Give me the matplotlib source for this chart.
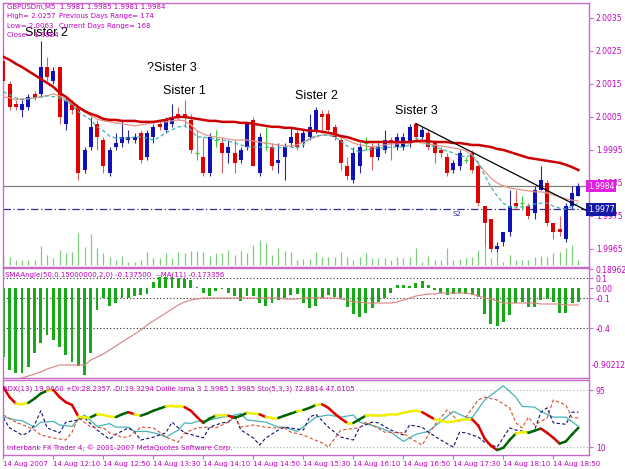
import numpy as np
import matplotlib
matplotlib.use("Agg")
import matplotlib.pyplot as plt
import matplotlib.transforms as mtransforms

W, H = 625, 469

# ---- price data: GBPUSDm M5, 14 Aug 2007 11:30 .. 19:10 ----
opens = [2.0022, 2.0015, 2.0009, 2.0007, 2.0008, 2.0012, 2.0012, 2.0020, 2.0016, 2.0020,
         2.0003, 2.0009, 2.0008, 1.9989, 1.9996, 2.0003, 1.9998, 1.9988, 1.9996, 1.9997,
         1.9998, 1.9998, 2.0000, 1.9993, 1.9999, 2.0003, 2.0001, 2.0003, 2.0006, 2.0006,
         2.0004, 1.9994, 1.9993, 1.9988, 1.9998, 1.9997, 1.9994, 1.9994, 1.9992, 1.9996,
         2.0004, 1.9988, 1.9997, 1.9996, 1.9991, 1.9993, 1.9997, 2.0000, 1.9997, 1.9999,
         2.0001, 2.0006, 2.0006, 2.0002, 1.9998, 1.9990, 1.9986, 1.9990, 1.9997, 1.9996,
         1.9993, 1.9995, 1.9998, 1.9996, 1.9996, 1.9997, 2.0003, 1.9999, 2.0000, 1.9997,
         1.9995, 1.9993, 1.9989, 1.9990, 1.9992, 1.9994, 1.9990, 1.9978, 1.9974, 1.9965,
         1.9967, 1.9970, 1.9979, 1.9979, 1.9978, 1.9976, 1.9983, 1.9985, 1.9973, 1.9971,
         1.9968, 1.9978, 1.9981]
highs = [2.0023, 2.0016, 2.0010, 2.0010, 2.0012, 2.0013, 2.0028, 2.0023, 2.0020, 2.0020,
         2.0011, 2.0010, 2.0008, 1.9996, 2.0005, 2.0004, 1.9999, 1.9996, 2.0000, 2.0004,
         2.0001, 2.0000, 2.0001, 2.0001, 2.0003, 2.0004, 2.0005, 2.0009, 2.0008, 2.0010,
         2.0006, 2.0001, 1.9999, 2.0000, 2.0001, 1.9999, 1.9998, 1.9998, 1.9996, 2.0003,
         2.0005, 2.0000, 2.0002, 1.9997, 1.9997, 1.9997, 2.0002, 2.0001, 2.0001, 2.0006,
         2.0008, 2.0007, 2.0007, 2.0003, 1.9999, 1.9993, 1.9996, 1.9997, 1.9999, 1.9997,
         1.9997, 2.0001, 1.9999, 2.0000, 2.0000, 2.0003, 2.0003, 2.0002, 2.0001, 1.9998,
         1.9996, 1.9994, 1.9992, 1.9995, 1.9993, 1.9995, 1.9991, 1.9978, 1.9974, 1.9967,
         1.9970, 1.9983, 1.9983, 1.9981, 1.9979, 1.9984, 1.9990, 1.9986, 1.9973, 1.9975,
         1.9979, 1.9984, 1.9985]
lows = [2.0015, 2.0007, 2.0007, 2.0005, 2.0007, 2.0010, 2.0011, 2.0016, 2.0015, 2.0003,
        2.0001, 2.0006, 1.9986, 1.9988, 1.9995, 1.9995, 1.9988, 1.9987, 1.9995, 1.9996,
        1.9997, 1.9997, 1.9991, 1.9992, 1.9997, 2.0001, 2.0000, 2.0002, 2.0004, 2.0002,
        1.9994, 1.9992, 1.9987, 1.9987, 1.9996, 1.9988, 1.9991, 1.9988, 1.9991, 1.9995,
        1.9990, 1.9987, 1.9995, 1.9989, 1.9988, 1.9986, 1.9996, 1.9995, 1.9996, 1.9998,
        2.0000, 2.0000, 2.0000, 1.9998, 1.9989, 1.9986, 1.9985, 1.9988, 1.9995, 1.9989,
        1.9992, 1.9994, 1.9992, 1.9995, 1.9995, 1.9996, 1.9998, 1.9998, 1.9995, 1.9991,
        1.9993, 1.9987, 1.9988, 1.9989, 1.9991, 1.9988, 1.9978, 1.9966, 1.9964, 1.9964,
        1.9966, 1.9969, 1.9977, 1.9977, 1.9974, 1.9974, 1.9983, 1.9972, 1.9968, 1.9969,
        1.9967, 1.9977, 1.9981]
closes = [2.0016, 2.0008, 2.0008, 2.0009, 2.0011, 2.0011, 2.0020, 2.0017, 2.0019, 2.0005,
          2.0010, 2.0007, 1.9988, 1.9995, 2.0002, 1.9999, 1.9990, 1.9995, 1.9997, 1.9999,
          1.9999, 1.9999, 1.9992, 2.0000, 2.0002, 2.0002, 2.0004, 2.0005, 2.0005, 2.0005,
          1.9995, 1.9994, 1.9988, 1.9999, 1.9998, 1.9994, 1.9996, 1.9991, 1.9995, 2.0003,
          1.9990, 1.9999, 1.9997, 1.9990, 1.9992, 1.9996, 1.9999, 1.9996, 2.0000, 2.0002,
          2.0007, 2.0005, 2.0001, 1.9999, 1.9991, 1.9987, 1.9994, 1.9996, 1.9997, 1.9993,
          1.9996, 1.9998, 1.9997, 1.9999, 1.9999, 2.0002, 1.9999, 2.0001, 1.9996, 1.9994,
          1.9994, 1.9988, 1.9991, 1.9994, 1.9992, 1.9989, 1.9979, 1.9973, 1.9965, 1.9966,
          1.9970, 1.9978, 1.9978, 1.9979, 1.9975, 1.9983, 1.9986, 1.9973, 1.9970, 1.9970,
          1.9978, 1.9982, 1.9984]
volumes = [8, 8, 5, 5, 5, 5, 19, 10, 7, 15, 12, 13, 32, 18, 31, 17, 12, 8, 5, 9,
           3, 3, 5, 13, 7, 7, 12, 7, 13, 12, 14, 14, 13, 9, 12, 12, 15, 10, 14, 12,
           20, 25, 22, 10, 17, 14, 13, 5, 6, 6, 13, 8, 8, 8, 13, 8, 5, 8, 12, 7,
           7, 7, 5, 8, 7, 8, 17, 3, 9, 5, 5, 17, 5, 6, 7, 8, 15, 19, 7, 13,
           3, 10, 5, 5, 5, 8, 9, 8, 12, 13, 17, 20, 5]

ma_slow = [2.00232, 2.00223, 2.00211, 2.00201, 2.00189, 2.00177, 2.00165, 2.00153, 2.00141, 2.00123,
           2.00111, 2.00095, 2.00080, 2.00068, 2.00059, 2.00053, 2.00044, 2.00041, 2.00041, 2.00038,
           2.00038, 2.00038, 2.00035, 2.00035, 2.00035, 2.00038, 2.00041, 2.00047, 2.00050, 2.00050,
           2.00047, 2.00044, 2.00041, 2.00038, 2.00038, 2.00035, 2.00035, 2.00035, 2.00032, 2.00032,
           2.00029, 2.00026, 2.00023, 2.00020, 2.00020, 2.00017, 2.00017, 2.00014, 2.00011, 2.00008,
           2.00008, 2.00005, 2.00002, 1.99998, 1.99992, 1.99989, 1.99983, 1.99977, 1.99974, 1.99974,
           1.99974, 1.99974, 1.99974, 1.99974, 1.99974, 1.99974, 1.99977, 1.99977, 1.99977, 1.99974,
           1.99974, 1.99974, 1.99971, 1.99971, 1.99968, 1.99965, 1.99965, 1.99962, 1.99959, 1.99953,
           1.99950, 1.99944, 1.99938, 1.99932, 1.99926, 1.99923, 1.99920, 1.99917, 1.99914, 1.99911,
           1.99905, 1.99898, 1.99889]
ma_mid = [2.00111, 2.00108, 2.00102, 2.00105, 2.00105, 2.00108, 2.00111, 2.00114, 2.00120, 2.00114,
          2.00102, 2.00089, 2.00077, 2.00065, 2.00053, 2.00044, 2.00038, 2.00035, 2.00032, 2.00029,
          2.00026, 2.00023, 2.00026, 2.00029, 2.00032, 2.00035, 2.00035, 2.00038, 2.00041, 2.00038,
          2.00026, 2.00008, 1.99998, 1.99992, 1.99989, 1.99986, 1.99983, 1.99980, 1.99980, 1.99980,
          1.99977, 1.99974, 1.99971, 1.99968, 1.99965, 1.99962, 1.99962, 1.99965, 1.99974, 1.99983,
          1.99989, 1.99995, 1.99995, 1.99995, 1.99989, 1.99980, 1.99971, 1.99965, 1.99962, 1.99959,
          1.99962, 1.99965, 1.99968, 1.99968, 1.99971, 1.99971, 1.99974, 1.99971, 1.99968, 1.99965,
          1.99962, 1.99959, 1.99956, 1.99953, 1.99947, 1.99935, 1.99908, 1.99886, 1.99865, 1.99850,
          1.99841, 1.99835, 1.99832, 1.99829, 1.99826, 1.99823, 1.99823, 1.99820, 1.99814, 1.99808,
          1.99802, 1.99798, 1.99795]
ma_fast = [2.00126, 2.00117, 2.00108, 2.00102, 2.00105, 2.00108, 2.00111, 2.00114, 2.00111, 2.00108,
           2.00098, 2.00086, 2.00065, 2.00053, 2.00041, 2.00020, 2.00008, 1.99992, 1.99986, 1.99986,
           1.99986, 1.99989, 1.99989, 1.99986, 1.99980, 1.99989, 2.00002, 2.00011, 2.00020, 2.00023,
           2.00011, 1.99989, 1.99989, 1.99986, 1.99983, 1.99980, 1.99977, 1.99971, 1.99965, 1.99959,
           1.99959, 1.99959, 1.99959, 1.99956, 1.99956, 1.99959, 1.99959, 1.99956, 1.99965, 1.99986,
           1.99992, 1.99995, 1.99995, 1.99989, 1.99977, 1.99962, 1.99950, 1.99944, 1.99950, 1.99953,
           1.99956, 1.99956, 1.99959, 1.99959, 1.99959, 1.99965, 1.99986, 1.99980, 1.99965, 1.99959,
           1.99953, 1.99947, 1.99941, 1.99932, 1.99929, 1.99935, 1.99911, 1.99874, 1.99838, 1.99811,
           1.99789, 1.99777, 1.99777, 1.99777, 1.99780, 1.99786, 1.99789, 1.99789, 1.99780, 1.99774,
           1.99771, 1.99780, 1.99789]

bid_price = 1.9984
s2_price = 1.9977
trend_bars = [66, 95]
trend_prices = [2.0003, 1.99750]
price_ticks = [2.0035, 2.0025, 2.0015, 2.0005, 1.9995, 1.9985, 1.9975, 1.9965]

# ---- SMAAngle sub-window ----
angle_hist = [-0.69, -0.82, -0.85, -0.85, -0.79, -0.65, -0.55, -0.47, -0.52, -0.59,
              -0.67, -0.74, -0.78, -0.87, -0.65, -0.22, -0.10, -0.18, -0.15, -0.10,
              -0.10, -0.08, -0.07, -0.06, 0.06, 0.11, 0.11, 0.11, 0.10, 0.09,
              0.08, 0.01, -0.05, -0.08, -0.03, -0.01, -0.05, -0.08, -0.13, -0.08,
              -0.08, -0.15, -0.18, -0.15, -0.12, -0.10, -0.07, -0.06, -0.15, -0.20,
              -0.18, -0.10, -0.07, -0.09, -0.10, -0.19, -0.26, -0.29, -0.25, -0.20,
              -0.14, -0.10, -0.05, 0.03, 0.03, 0.02, 0.05, 0.07, 0.03, -0.02,
              -0.05, -0.07, -0.06, -0.05, -0.06, -0.07, -0.09, -0.26, -0.36, -0.38,
              -0.34, -0.27, -0.15, -0.14, -0.19, -0.19, -0.12, -0.11, -0.14, -0.25,
              -0.25, -0.15, -0.14]
angle_ma = [-0.92, -0.91, -0.91, -0.90, -0.88, -0.86, -0.84, -0.81, -0.79, -0.77,
            -0.77, -0.77, -0.77, -0.77, -0.72, -0.69, -0.66, -0.62, -0.58, -0.54,
            -0.50, -0.46, -0.42, -0.37, -0.33, -0.29, -0.25, -0.21, -0.17, -0.14,
            -0.12, -0.11, -0.10, -0.10, -0.10, -0.10, -0.10, -0.10, -0.10, -0.10,
            -0.10, -0.10, -0.10, -0.10, -0.10, -0.11, -0.11, -0.11, -0.10, -0.10,
            -0.10, -0.10, -0.10, -0.10, -0.11, -0.12, -0.14, -0.14, -0.15, -0.15,
            -0.15, -0.15, -0.15, -0.14, -0.12, -0.10, -0.08, -0.07, -0.06, -0.06,
            -0.05, -0.05, -0.05, -0.05, -0.05, -0.06, -0.08, -0.10, -0.11, -0.13,
            -0.15, -0.15, -0.15, -0.15, -0.15, -0.15, -0.16, -0.16, -0.16, -0.16,
            -0.17, -0.17, -0.17]
angle_levels = [0.1, -0.1, -0.4]

# ---- ADX / Dollie / Sto sub-window ----
lsma_line = [94, 80, 71, 70, 72, 78, 85, 89, 90, 80, 73, 69, 53, 51, 52, 56, 55, 53, 52, 56,
             59, 56, 54, 57, 61, 64, 67, 68, 68, 66, 61, 52, 44, 50, 54, 55, 54, 51, 54, 58,
             57, 56, 52, 51, 51, 54, 57, 60, 62, 65, 69, 70, 65, 57, 50, 44, 44, 49, 54, 55,
             55, 55, 56, 56, 58, 60, 61, 59, 54, 49, 47, 45, 46, 48, 49, 49, 40, 22, 12, 6,
             9, 20, 29, 31, 30, 33, 36, 30, 23, 15, 18, 28, 37]
adx_bars = [0, 2, 3, 5, 6, 8, 9, 11, 12, 13, 15, 17, 18, 20, 21, 23, 25, 26, 28, 29,
            30, 31, 33, 35, 36, 38, 39, 41, 42, 44, 45, 47, 49, 50, 52, 54, 56, 57, 60, 62,
            64, 66, 68, 70, 72, 74, 75, 77, 80, 82, 83, 85, 86, 88, 90, 92]
adx_vals = [52, 48, 47, 38, 45, 46, 41, 39, 49, 55, 39, 43, 38, 38, 32, 32, 28, 24, 34, 44,
            43, 46, 48, 52, 53, 57, 48, 46, 45, 38, 38, 32, 45, 52, 55, 52, 55, 45, 38, 31,
            18, 28, 32, 46, 60, 52, 51, 76, 96, 80, 67, 66, 60, 52, 52, 39]
sto_bars = [0, 1, 3, 4, 5, 6, 7, 9, 10, 12, 13, 15, 17, 18, 20, 21, 22, 24, 26, 27,
            28, 29, 32, 33, 35, 36, 37, 38, 40, 41, 42, 44, 45, 48, 49, 50, 52, 54, 56, 57,
            59, 60, 62, 64, 65, 67, 68, 70, 72, 73, 74, 76, 77, 79, 81, 82, 84, 85, 86, 87,
            88, 90, 91, 92]
sto_main = [51, 37, 27, 30, 41, 61, 37, 30, 45, 48, 51, 34, 21, 28, 37, 31, 20, 24, 30, 45,
            37, 30, 23, 38, 44, 45, 55, 34, 23, 13, 23, 34, 38, 34, 52, 56, 38, 24, 20, 38,
            45, 44, 34, 27, 41, 38, 31, 20, 10, 31, 30, 24, 17, 10, 37, 34, 31, 34, 59, 65,
            44, 42, 59, 59]
sig_bars = [0, 2, 4, 5, 6, 8, 10, 11, 12, 14, 16, 17, 19, 20, 22, 24, 25, 26, 28, 29,
            31, 33, 34, 36, 37, 38, 40, 42, 43, 45, 46, 48, 49, 51, 52, 54, 57, 58, 59, 61,
            64, 65, 67, 69, 71, 73, 74, 76, 77, 79, 81, 82, 83, 84, 85, 87, 88, 90, 91, 92]
sto_signal = [55, 45, 38, 34, 27, 23, 20, 31, 51, 38, 37, 30, 24, 24, 38, 37, 31, 24, 17, 30,
              37, 38, 37, 45, 52, 38, 41, 38, 37, 37, 31, 27, 23, 16, 10, 34, 37, 45, 41, 31,
              30, 23, 13, 41, 62, 45, 52, 76, 80, 76, 65, 44, 37, 52, 41, 51, 76, 69, 51, 51]
sto_levels = [90, 10]

time_labels = ["14 Aug 2007", "14 Aug 12:10", "14 Aug 12:50", "14 Aug 13:30",
               "14 Aug 14:10", "14 Aug 14:50", "14 Aug 15:30", "14 Aug 16:10",
               "14 Aug 16:50", "14 Aug 17:30", "14 Aug 18:10", "14 Aug 18:50"]

FRAME = "#C86BC8"
TXT = "#C000C0"
BULL = "#1010B8"
BEAR = "#E00000"
BULL_WICK = "#2828A0"
BEAR_WICK = "#D86060"
DOJI = "#33CC33"
SMALL = dict(family="DejaVu Sans", size=5)

bars = np.arange(len(opens))


def px_rect(x0, y0, x1, y1):
    return [x0 / W, 1 - y1 / H, (x1 - x0) / W, (y1 - y0) / H]


fig = plt.figure(figsize=(W / 100, H / 100), dpi=100)
fig.patch.set_facecolor("white")
ax = fig.add_axes(px_rect(3, 3, 589, 266.5))
ax1 = fig.add_axes(px_rect(3, 268, 589, 378))
ax2 = fig.add_axes(px_rect(3, 380, 589, 455))

# volume shares the main window, drawn underneath the candles
vol_ax = ax.twinx()
vol_ax.set_ylim(-1.5, 262)
vol_ax.set_xlim(-0.05, 93.7)
vol_ax.axis("off")
vol_ax.vlines(bars, 0, volumes, color="#7CCD7C", lw=0.9)
ax.set_zorder(vol_ax.get_zorder() + 1)
ax.patch.set_visible(False)

for a in (ax, ax1, ax2):
    a.set_xlim(-0.05, 93.7)
    for s in a.spines.values():
        s.set_color(FRAME)
        s.set_linewidth(1.0)
    a.yaxis.tick_right()
    a.yaxis.set_label_position("right")
    a.tick_params(axis="y", direction="out", length=3, width=0.8, color=FRAME,
                  labelcolor=TXT, labelsize=5.5, pad=2, left=False, labelleft=False,
                  right=True, labelright=True)
    a.tick_params(axis="x", bottom=False, labelbottom=False)

# ---- main window ----
ax.set_ylim(1.99597, 2.00395)
ax.set_yticks(price_ticks)
ax.set_yticklabels(["%.4f" % p for p in price_ticks])

ax.axhline(bid_price, color="#808080", lw=0.9, zorder=1)
ax.axhline(s2_price, color="#30309A", lw=0.9, ls=(0, (6, 2, 1, 2)), zorder=1)

for i in bars:
    o, h, l, c = opens[i], highs[i], lows[i], closes[i]
    if c > o:
        ax.vlines(i, l, h, color=BULL_WICK, lw=0.8, zorder=2)
        ax.bar(i, c - o, bottom=o, width=0.62, color=BULL, zorder=3)
    elif c < o:
        ax.vlines(i, l, h, color=BEAR_WICK, lw=0.8, zorder=2)
        ax.bar(i, o - c, bottom=c, width=0.62, color=BEAR, zorder=3)
    else:
        ax.vlines(i, l, h, color=DOJI, lw=0.8, zorder=2)
        ax.hlines(c, i - 0.35, i + 0.35, color=DOJI, lw=0.8, zorder=3)

ax.plot(bars, ma_mid, color="#E09888", lw=0.9, zorder=4)
ax.plot(bars, ma_fast, color="#3CB4B4", lw=0.9, ls=(0, (3, 2)), zorder=4)
ax.plot(bars, ma_slow, color="#CC0000", lw=1.8, zorder=5)
ax.plot(trend_bars, trend_prices, color="black", lw=0.9, zorder=5)

for txt, xb, yp in [("Sister 2", 3.5, 2.00305), ("?Sister 3", 23.0, 2.00198),
                    ("Sister 1", 25.6, 2.00129), ("Sister 2", 46.6, 2.00114),
                    ("Sister 3", 62.6, 2.00068)]:
    ax.text(xb, yp, txt, ha="left", va="center", family="Liberation Sans",
            size=9, color="black", zorder=6)
ax.text(71.8, 1.99756, "S2", ha="left", va="center", color="#30309A",
        fontdict=SMALL, zorder=6)

blend = mtransforms.blended_transform_factory(ax.transAxes, ax.transData)
ax.text(0.9985, bid_price, "1.9984", transform=blend, ha="left", va="center",
        color="white", size=5.5, family="DejaVu Sans", zorder=7, clip_on=False,
        bbox=dict(facecolor="#E020E0", edgecolor="none", pad=1.2))
ax.text(0.9985, s2_price, "1.9977", transform=blend, ha="left", va="center",
        color="white", size=5.5, family="DejaVu Sans", zorder=7, clip_on=False,
        bbox=dict(facecolor="#1818A8", edgecolor="none", pad=1.2))

info = [("GBPUSDm,M5  1.9981 1.9985 1.9981 1.9984", 7, 7),
        ("High= 2.0257", 7, 16), ("Previous Days Range= 174", 59, 16),
        ("Low= 2.0063", 7, 26), ("Current Days Range= 168", 59, 26),
        ("Close= 1.9984", 7, 35)]
for txt, x, y in info:
    fig.text(x / W, 1 - y / H, txt, ha="left", va="center", color=TXT, fontdict=SMALL)

# ---- SMAAngle window ----
ax1.set_ylim(-0.90, 0.20)
ax1.set_yticks([0.189625, 0.1, 0.0, -0.1, -0.4])
ax1.set_yticklabels(["0.189625", "0.1", "0.00", "-0.1", "-0.4"])
ax1.bar(bars, angle_hist, width=0.45, color="#18A818", zorder=2)
ax1.plot(bars, angle_ma, color="#D88080", lw=0.8, zorder=3)
for lv in angle_levels:
    ax1.axhline(lv, color="#303030", lw=0.8, ls=(0, (1, 2)), zorder=1)
ax1.text(1.005, -0.77, "-0.90212", transform=mtransforms.blended_transform_factory(
    ax1.transAxes, ax1.transData), ha="left", va="center", color=TXT, size=5.5,
    clip_on=False)
ax1.text(0.004, 0.13, "SMAAngle(50,0.15000000,2,0) -0.137500  --MA(11) -0.173356",
         transform=mtransforms.blended_transform_factory(ax1.transAxes, ax1.transData),
         ha="left", va="center", color=TXT, fontdict=SMALL)

# ---- ADX / Sto window ----
ax2.set_ylim(-1, 104)
ax2.set_yticks(sto_levels)
ax2.set_yticklabels(["95", "10"])
for lv in sto_levels:
    ax2.axhline(lv, color="#B0B0B0", lw=0.8, ls=(0, (1, 2)), zorder=1)
ax2.plot(adx_bars, adx_vals, color="#48B4B4", lw=0.9, zorder=2)
ax2.plot(sto_bars, sto_main, color="#101070", lw=0.8, ls=(0, (3, 2)), zorder=2)
ax2.plot(sig_bars, sto_signal, color="#D05030", lw=0.8, ls=(0, (3, 2)), zorder=2)
for i in range(len(lsma_line) - 1):
    d = lsma_line[i + 1] - lsma_line[i]
    col = "#006400" if d > 2.5 else ("#DD0000" if d < -2.5 else "#F0F000")
    ax2.plot([i, i + 1], [lsma_line[i], lsma_line[i + 1]], color=col, lw=1.8,
             solid_capstyle="round", zorder=3)
ax2.text(0.0, 92, "ADX(13) 19.9660 +DI:28.2357 -DI:19.3294 Dollie lsma 3 1.9985 1.9985 "
         "Sto(5,3,3) 72.8814 47.6105", ha="left", va="center", color=TXT, fontdict=SMALL)
ax2.text(0.6, 9, "Interbank FX Trader 4, \u00a9 2001-2007 MetaQuotes Software Corp.",
         ha="left", va="center", color=TXT, fontdict=SMALL)

ax2.tick_params(axis="x", bottom=True, labelbottom=True, direction="out", length=3,
                width=0.8, color=FRAME, labelcolor=TXT, labelsize=5, pad=1.5)
ax2.set_xticks(bars[::8])
ax2.set_xticklabels(time_labels)
for lab in ax2.get_xticklabels():
    lab.set_ha("left")

fig.savefig("out.png", dpi=100)
